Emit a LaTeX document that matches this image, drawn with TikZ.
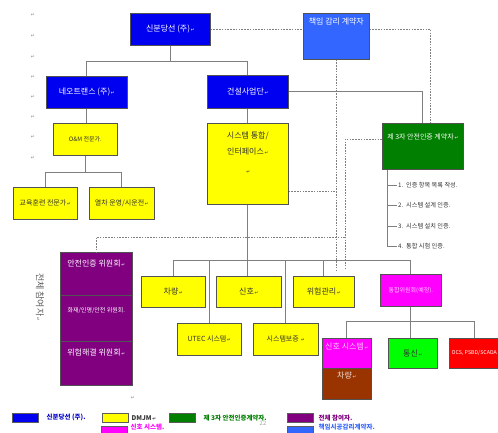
\documentclass[tikz,border=0pt]{standalone}
\usepackage{fontspec}
\usepackage{xcolor}
\usepackage{tikz}
\usetikzlibrary{positioning}
\newfontfamily\kr{Noto Sans CJK KR}
\newfontfamily\dv{DejaVu Sans}
\definecolor{ink}{HTML}{333333}
\definecolor{linegray}{HTML}{7F7F7F}
\definecolor{sbdblue}{HTML}{0000F0}
\definecolor{skyblue}{HTML}{3366FF}
\definecolor{dmjm}{HTML}{FFFF00}
\definecolor{certgreen}{HTML}{007F00}
\definecolor{panpurple}{HTML}{800080}
\definecolor{sigpink}{HTML}{FF00FF}
\definecolor{telgreen}{HTML}{00FF00}
\definecolor{ocsred}{HTML}{FF0000}
\definecolor{carbrown}{HTML}{993300}
\newcommand\retmk{{\dv\fontsize{4.5}{5}\selectfont\,↵}}
\tikzset{
  org chart/.style={
    x=1pt, y=-1pt,
    font=\kr\fontsize{8}{10}\selectfont
  },
  smallfont/.style={font=\kr\fontsize{7}{8.5}\selectfont},
  minifont/.style={font=\kr\fontsize{6}{7}\selectfont},
  orgbox/.style={
    draw=ink!85,
    line width=0.6pt,
    anchor=north west,
    inner sep=1pt,
    align=center,
    text=ink
  },
  bluebox/.style={orgbox, fill=sbdblue, text=white},
  skybox/.style={orgbox, fill=skyblue, text=white},
  yellowbox/.style={orgbox, fill=dmjm},
  greenbox/.style={orgbox, fill=certgreen, text=white},
  purplebox/.style={orgbox, fill=panpurple, text=white},
  pinkbox/.style={orgbox, fill=sigpink, text=white!80!sigpink},
  limebox/.style={orgbox, fill=telgreen},
  redbox/.style={orgbox, fill=ocsred, text=white},
  brownbox/.style={orgbox, fill=carbrown, text=white!85!carbrown},
  intext/.style={anchor=north, inner sep=1pt, align=center},
  orgline/.style={draw=linegray, line width=0.7pt},
  superline/.style={draw=linegray, line width=0.7pt, dash pattern=on 1.6pt off 1.2pt},
  marktext/.style={text=ink!55, font=\dv\fontsize{5}{5}\selectfont, inner sep=0pt},
  listtext/.style={anchor=west, inner sep=1pt, text=ink, font=\kr\fontsize{6.2}{7}\selectfont},
  keybox/.style={draw=ink!80, line width=0.5pt, anchor=north west, minimum width=26pt, minimum height=9pt, inner sep=0pt},
  keytext/.style={anchor=west, inner sep=0pt, font=\kr\bfseries\fontsize{6.5}{7.5}\selectfont}
}
\begin{document}
\begin{tikzpicture}[org chart]
\useasboundingbox (0,0) rectangle (498,432);
% paragraph marks in the margin
\foreach \y in {15,36,57,77,97,117,137,158}
  \node[marktext] (m\y) at (33,\y) {↵};
\node[marktext] (mbot) at (133,398) {↵};
\node[text=ink!45, font=\kr\fontsize{6}{7}\selectfont] (pageno) at (263,423) {22};

% owner and supervisor
\node[bluebox, minimum width=80pt, minimum height=32pt] (sbd) at (130,13) {신분당선 (주)\retmk};
\node[skybox, minimum width=66pt, minimum height=46pt,
  label={[intext, text=white, yshift=-4pt]north:책임 감리 계약자}] (sup) at (303,13) {};

% operator side
\node[bluebox, minimum width=81pt, minimum height=32pt] (neo) at (46,76) {네오트랜스 (주)\retmk};
\node[yellowbox, minifont, minimum width=64pt, minimum height=32pt] (om) at (53,123) {O\&M 전문가.};
\node[yellowbox, smallfont, minimum width=64pt, minimum height=32pt] (edu) at (13,187) {교육훈련 전문가\retmk};
\node[yellowbox, smallfont, minimum width=65pt, minimum height=32pt] (train) at (89,187) {열차 운영/시운전\retmk};

% construction side
\node[bluebox, minimum width=81pt, minimum height=33pt] (cm) at (207,75) {건설사업단\retmk};
\node[yellowbox, minimum width=81pt, minimum height=81pt,
  label={[intext, text=ink, yshift=-8pt, font=\kr\fontsize{8}{16}\selectfont]north:시스템 통합/\\인터페이스\retmk\\[3pt]\retmk}] (si) at (207,123) {};
\node[greenbox, minimum width=81pt, minimum height=46pt,
  label={[intext, text=white, yshift=-10pt, font=\kr\fontsize{7}{8}\selectfont]north:제 3자 안전인증 계약자\retmk}] (cert) at (382,123) {};

% certification tasks
\foreach \t [count=\i] in {인증 항목 목록 작성., 시스템 설계 인증., 시스템 설치 인증., 통합 시험 인증.}
  \node[listtext] (c\i) at (397,{164.5+20.5*\i}) {\i.\ \ \t};
\coordinate (listtop) at ([xshift=5pt]cert.south west);

% all participants
\node[purplebox, minimum width=72pt, minimum height=43pt,
  label={[intext, text=white, yshift=-7pt]north:안전인증 위원회\retmk}] (pan1) at (60,252) {};
\node[purplebox, minimum width=72pt, minimum height=46pt,
  label={[intext, text=white, yshift=-11pt, font=\kr\fontsize{6}{7}\selectfont]north:화재/인명/안전 위원회.}] (pan2) at (60,295) {};
\node[purplebox, minimum width=72pt, minimum height=44pt,
  label={[intext, text=white, yshift=-7pt]north:위험해결 위원회\retmk}] (pan3) at (60,341) {};
\node[rotate=-90, text=ink!80, font=\kr\fontsize{9}{10}\selectfont] (allpart) at (40,297) {전체 참여자\retmk};

% systems
\node[yellowbox, minimum width=64pt, minimum height=31pt] (car) at (141,276) {차량\retmk};
\node[yellowbox, minimum width=65pt, minimum height=31pt] (sig) at (216,276) {신호\retmk};
\node[yellowbox, minimum width=61pt, minimum height=31pt] (risk) at (293,276) {위험관리\retmk};
\node[pinkbox, minifont, minimum width=61pt, minimum height=32pt] (com) at (380,274) {통합위원회(예정).};
\node[yellowbox, smallfont, minimum width=64pt, minimum height=32pt] (utec) at (177,323) {UTEC 시스템\retmk};
\node[yellowbox, smallfont, minimum width=65pt, minimum height=32pt] (assure) at (253,323) {시스템보증 \retmk};
\node[pinkbox, minimum width=49pt, minimum height=30pt,
  label={[intext, text=white!80!sigpink, yshift=-4pt]north:신호 시스템\retmk}] (sigsys) at (322,338) {};
\node[brownbox, minimum width=49pt, minimum height=31pt,
  label={[intext, text=white!85!carbrown, yshift=-3pt]north:차량\retmk}] (car2) at (322,368) {};
\node[limebox, minimum width=49pt, minimum height=30pt] (tel) at (388,338) {통신\retmk};
\node[redbox, font=\kr\fontsize{5.3}{6}\selectfont, minimum width=50pt, minimum height=30pt] (ocs) at (449,338) {OCS, PSBD/SCADA};

% reporting lines
\draw[orgline] (sbd.south) -- ++(0,16) -| (neo.north);
\draw[orgline] (sbd.south) -- ++(0,16) -| (cm.north);
\draw[orgline] (neo.south) -- (neo.south |- om.north);
\draw[orgline] (om.south) -- ++(0,17) -| (edu.north);
\draw[orgline] (om.south) -- ++(0,17) -| (train.north);
\draw[orgline] (cm.east) -| (cert.north);
\draw[orgline] (cm.south) -- (si.north);
\draw[orgline] (si.south) -- (si.south |- sig.north);
\draw[orgline] (car.north) -- ++(0,-16) -| (com.north);
\draw[orgline] (risk.north) -- ++(0,-16);
\draw[orgline] (utec.north) -- ++(0,-63);
\draw[orgline] (assure.north) -- ++(0,-63);
\draw[orgline] (com.south) -- ++(0,15) -| (sigsys.north);
\draw[orgline] (com.south) -- ++(0,15) -| (ocs.north);
\draw[orgline] (com.south) -- (com.south |- tel.north);
\draw[orgline] (listtop) |- (c4.west);
\foreach \i in {1,2,3}
  \draw[orgline] (listtop |- c\i.west) -- (c\i.west);

% supervision lines
\coordinate (supend) at (336,270);
\coordinate (certend) at (345,270);
\coordinate (panjoin) at (345,237);
\draw[superline] (sbd.east) -- (sbd.east -| sup.west);
\draw[superline] (sup.east |- sbd.east) -| ([xshift=8pt]cert.north);
\draw[superline] (sup.south) -- (sup.south |- supend);
\draw[superline] ([yshift=-27.5pt]si.east) -- ([yshift=-27.5pt]si.east -| sup.south);
\draw[superline] ([yshift=7pt]cert.west) -| (certend);
\draw[superline] (panjoin) -| (pan1.north);

% legend
\node[keybox, fill=sbdblue] (k1) at (12,413) {};
\node[keytext, text=sbdblue!85!black, right=8pt of k1] (k1t) {신분당선 (주).};
\node[keybox, fill=dmjm] (k2) at (102,413) {};
\node[keytext, text=ink, right=3pt of k2] (k2t) {DMJM\retmk};
\node[keybox, fill=certgreen] (k3) at (169,413) {};
\node[keytext, text=certgreen, right=8pt of k3] (k3t) {제 3자 안전인증계약자.};
\node[keybox, fill=panpurple] (k4) at (287,413) {};
\node[keytext, text=panpurple, right=5pt of k4] (k4t) {전체 참여자.};
\node[keybox, fill=sigpink] (k5) at (101,426) {};
\node[keytext, text=sigpink, right=3pt of k5, yshift=3.5pt] (k5t) {신호 시스템.};
\node[keybox, fill=skyblue] (k6) at (287,426) {};
\node[keytext, text=skyblue, right=5pt of k6, yshift=3.5pt] (k6t) {책임시공감리계약자.};
\end{tikzpicture}
\end{document}
